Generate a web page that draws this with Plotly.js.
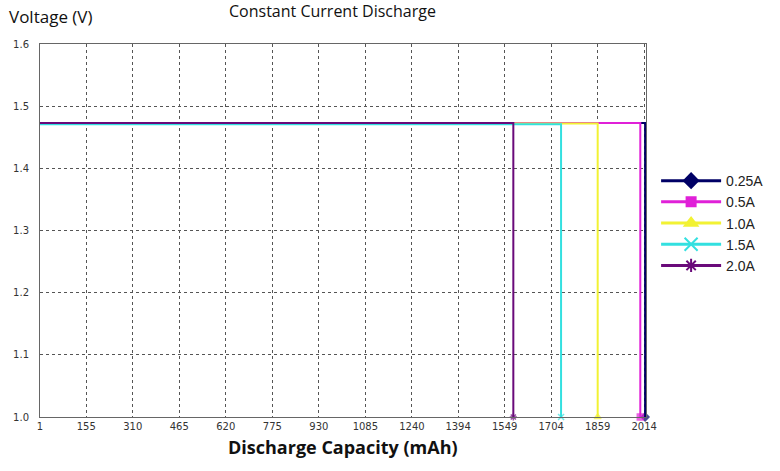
<!DOCTYPE html>
<html>
<head>
<meta charset="utf-8">
<script src="https://cdn.plot.ly/plotly-3.0.1.min.js"></script>
<style>html,body{margin:0;padding:0;background:#fff;}#chart{width:780px;height:471px;}</style>
</head>
<body>
<div id="chart"></div>
<script>
const seriesNames = ["0.25A", "0.5A", "1.0A", "1.5A", "2.0A"];
const seriesColors = ["#000066", "#e020d8", "#f2f233", "#33e0e0", "#6a0a7a"];
const seriesSymbols = ["diamond", "square", "triangle-up", "x-thin-open", "asterisk-open"];
const legendMarkerSizes = [11, 9, 11, 13, 11];
const plateauVoltage = [1.473, 1.473, 1.472, 1.471, 1.473];
const endCapacity = [2017, 2001, 1859, 1737, 1578];
const startCapacity = 1;
const cutoffVoltage = 1.0;
const xTicks = [1, 155, 310, 465, 620, 775, 930, 1085, 1240, 1394, 1549, 1704, 1859, 2014];
const yTicks = [1.0, 1.1, 1.2, 1.3, 1.4, 1.5, 1.6];

const dataTraces = seriesNames.map((name, i) => ({
  type: "scatter",
  mode: "lines+markers",
  name: name,
  showlegend: false,
  x: [startCapacity, endCapacity[i], endCapacity[i]],
  y: [plateauVoltage[i], plateauVoltage[i], cutoffVoltage],
  line: {color: seriesColors[i], width: 2},
  marker: {color: seriesColors[i], symbol: seriesSymbols[i], size: [0, 0, 6],
           line: {color: seriesColors[i], width: 1.5}},
  cliponaxis: false
}));

const legendTraces = seriesNames.map((name, i) => ({
  type: "scatter",
  mode: "lines+markers",
  name: name,
  x: [null], y: [null],
  line: {color: seriesColors[i], width: 3},
  marker: {color: seriesColors[i], symbol: seriesSymbols[i], size: legendMarkerSizes[i],
           line: {color: seriesColors[i], width: 2}}
}));

const layout = {
  width: 780, height: 471,
  margin: {l: 40, r: 133, t: 44, b: 54},
  paper_bgcolor: "#fff", plot_bgcolor: "#fff",
  showlegend: true,
  legend: {x: 1.015, xanchor: "left", y: 0.52, yanchor: "middle",
           font: {family: "Liberation Sans, Arial, sans-serif", size: 14, color: "#222"},
           itemwidth: 60, tracegroupgap: 0, bgcolor: "rgba(0,0,0,0)"},
  xaxis: {range: [1, 2020], tickmode: "array", tickvals: xTicks, ticktext: xTicks.map(String),
          showgrid: true, gridcolor: "#555", griddash: "dot", gridwidth: 1,
          showline: true, linecolor: "#666", linewidth: 1, mirror: true,
          zeroline: false, ticks: "", ticklabelstandoff: 0,
          tickfont: {family: "DejaVu Sans, sans-serif", size: 10, color: "#333"}},
  yaxis: {range: [1.0, 1.6], tickmode: "array", tickvals: yTicks, ticktext: yTicks.map(v => v.toFixed(1)),
          showgrid: true, gridcolor: "#555", griddash: "dot", gridwidth: 1,
          showline: true, linecolor: "#666", linewidth: 1, mirror: true,
          zeroline: false, ticks: "", ticklabelstandoff: 8,
          tickfont: {family: "DejaVu Sans, sans-serif", size: 10, color: "#333"}},
  annotations: [
    {text: "Voltage (V)", xref: "paper", yref: "paper", x: -0.055, y: 1.0, xanchor: "left", yanchor: "bottom",
     yshift: 14, showarrow: false, font: {family: "Open Sans, sans-serif", size: 17, color: "#111"}},
    {text: "Constant Current Discharge", xref: "paper", yref: "paper", x: 0.309, y: 1.0, xanchor: "left", yanchor: "bottom",
     yshift: 20, showarrow: false, font: {family: "Open Sans, sans-serif", size: 16, color: "#111"}},
    {text: "<b>Discharge Capacity (mAh)</b>", xref: "paper", yref: "paper", x: 0.5, y: 0, xanchor: "center", yanchor: "middle",
     yshift: -30, showarrow: false, font: {family: "Open Sans, sans-serif", size: 18, color: "#111"}}
  ]
};

Plotly.newPlot("chart", dataTraces.concat(legendTraces), layout, {displayModeBar: false, staticPlot: true});
</script>
</body>
</html>
